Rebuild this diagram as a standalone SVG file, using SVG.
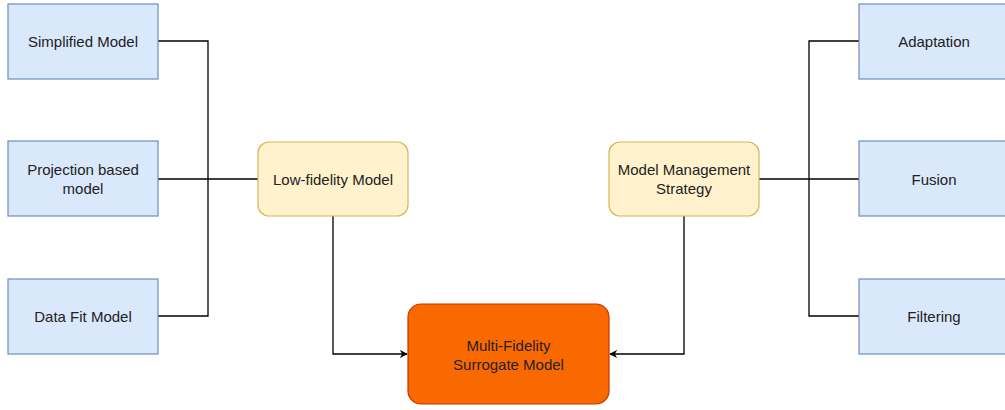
<svg xmlns="http://www.w3.org/2000/svg" width="1005" height="410" viewBox="0 0 1005 410">
  <defs>
    <style>
      .blue { fill: #dae8fc; stroke: #6c8ebf; stroke-width: 1.2; }
      .yellow { fill: #fff2cc; stroke: #d6b656; stroke-width: 1.2; }
      .orange { fill: #fa6800; stroke: #c73500; stroke-width: 1.2; }
      .lbl { font-family: "Liberation Sans", Arial, sans-serif; font-size: 15px; fill: #222; text-anchor: middle; dominant-baseline: central; }
      .wire { fill: none; stroke: #000; stroke-width: 1.3; }
    </style>
    <marker id="arrow" viewBox="0 0 10 10" refX="9" refY="5" markerWidth="8" markerHeight="8" markerUnits="userSpaceOnUse" orient="auto">
      <path d="M0,0 L10,5 L0,10 L3,5 Z" fill="#000"/>
    </marker>
  </defs>
  <rect width="1005" height="410" fill="#fff"/>

  <g id="connectors">
    <path class="wire" d="M158,41 H208 V316 H158"/>
    <path class="wire" d="M158,179 H258"/>
    <path class="wire" d="M859,41 H809 V316 H859"/>
    <path class="wire" d="M759,179 H859"/>
    <path class="wire" d="M333,216 V354 H407" marker-end="url(#arrow)"/>
    <path class="wire" d="M684,216 V354 H610" marker-end="url(#arrow)"/>
  </g>

  <g id="simplified-model">
    <rect class="blue" x="8" y="4" width="150" height="75"/>
    <text class="lbl" x="83" y="41.5">Simplified Model</text>
  </g>
  <g id="projection-model">
    <rect class="blue" x="8" y="141" width="150" height="75"/>
    <text class="lbl" x="83" y="169">Projection based</text>
    <text class="lbl" x="83" y="188">model</text>
  </g>
  <g id="data-fit-model">
    <rect class="blue" x="8" y="279" width="150" height="75"/>
    <text class="lbl" x="83" y="316.5">Data Fit Model</text>
  </g>

  <g id="low-fidelity-model">
    <rect class="yellow" x="258" y="142" width="150" height="74" rx="11"/>
    <text class="lbl" x="333" y="179">Low-fidelity Model</text>
  </g>
  <g id="model-management">
    <rect class="yellow" x="609" y="142" width="150" height="74" rx="11"/>
    <text class="lbl" x="684" y="169.5">Model Management</text>
    <text class="lbl" x="684" y="188.5">Strategy</text>
  </g>

  <g id="multi-fidelity">
    <rect class="orange" x="408" y="304" width="201" height="100" rx="13"/>
    <text class="lbl" x="508.5" y="345">Multi-Fidelity</text>
    <text class="lbl" x="508.5" y="364">Surrogate Model</text>
  </g>

  <g id="adaptation">
    <rect class="blue" x="859" y="4" width="150" height="75"/>
    <text class="lbl" x="934" y="41.5">Adaptation</text>
  </g>
  <g id="fusion">
    <rect class="blue" x="859" y="141" width="150" height="75"/>
    <text class="lbl" x="934" y="179">Fusion</text>
  </g>
  <g id="filtering">
    <rect class="blue" x="859" y="279" width="150" height="75"/>
    <text class="lbl" x="934" y="316.5">Filtering</text>
  </g>
</svg>
